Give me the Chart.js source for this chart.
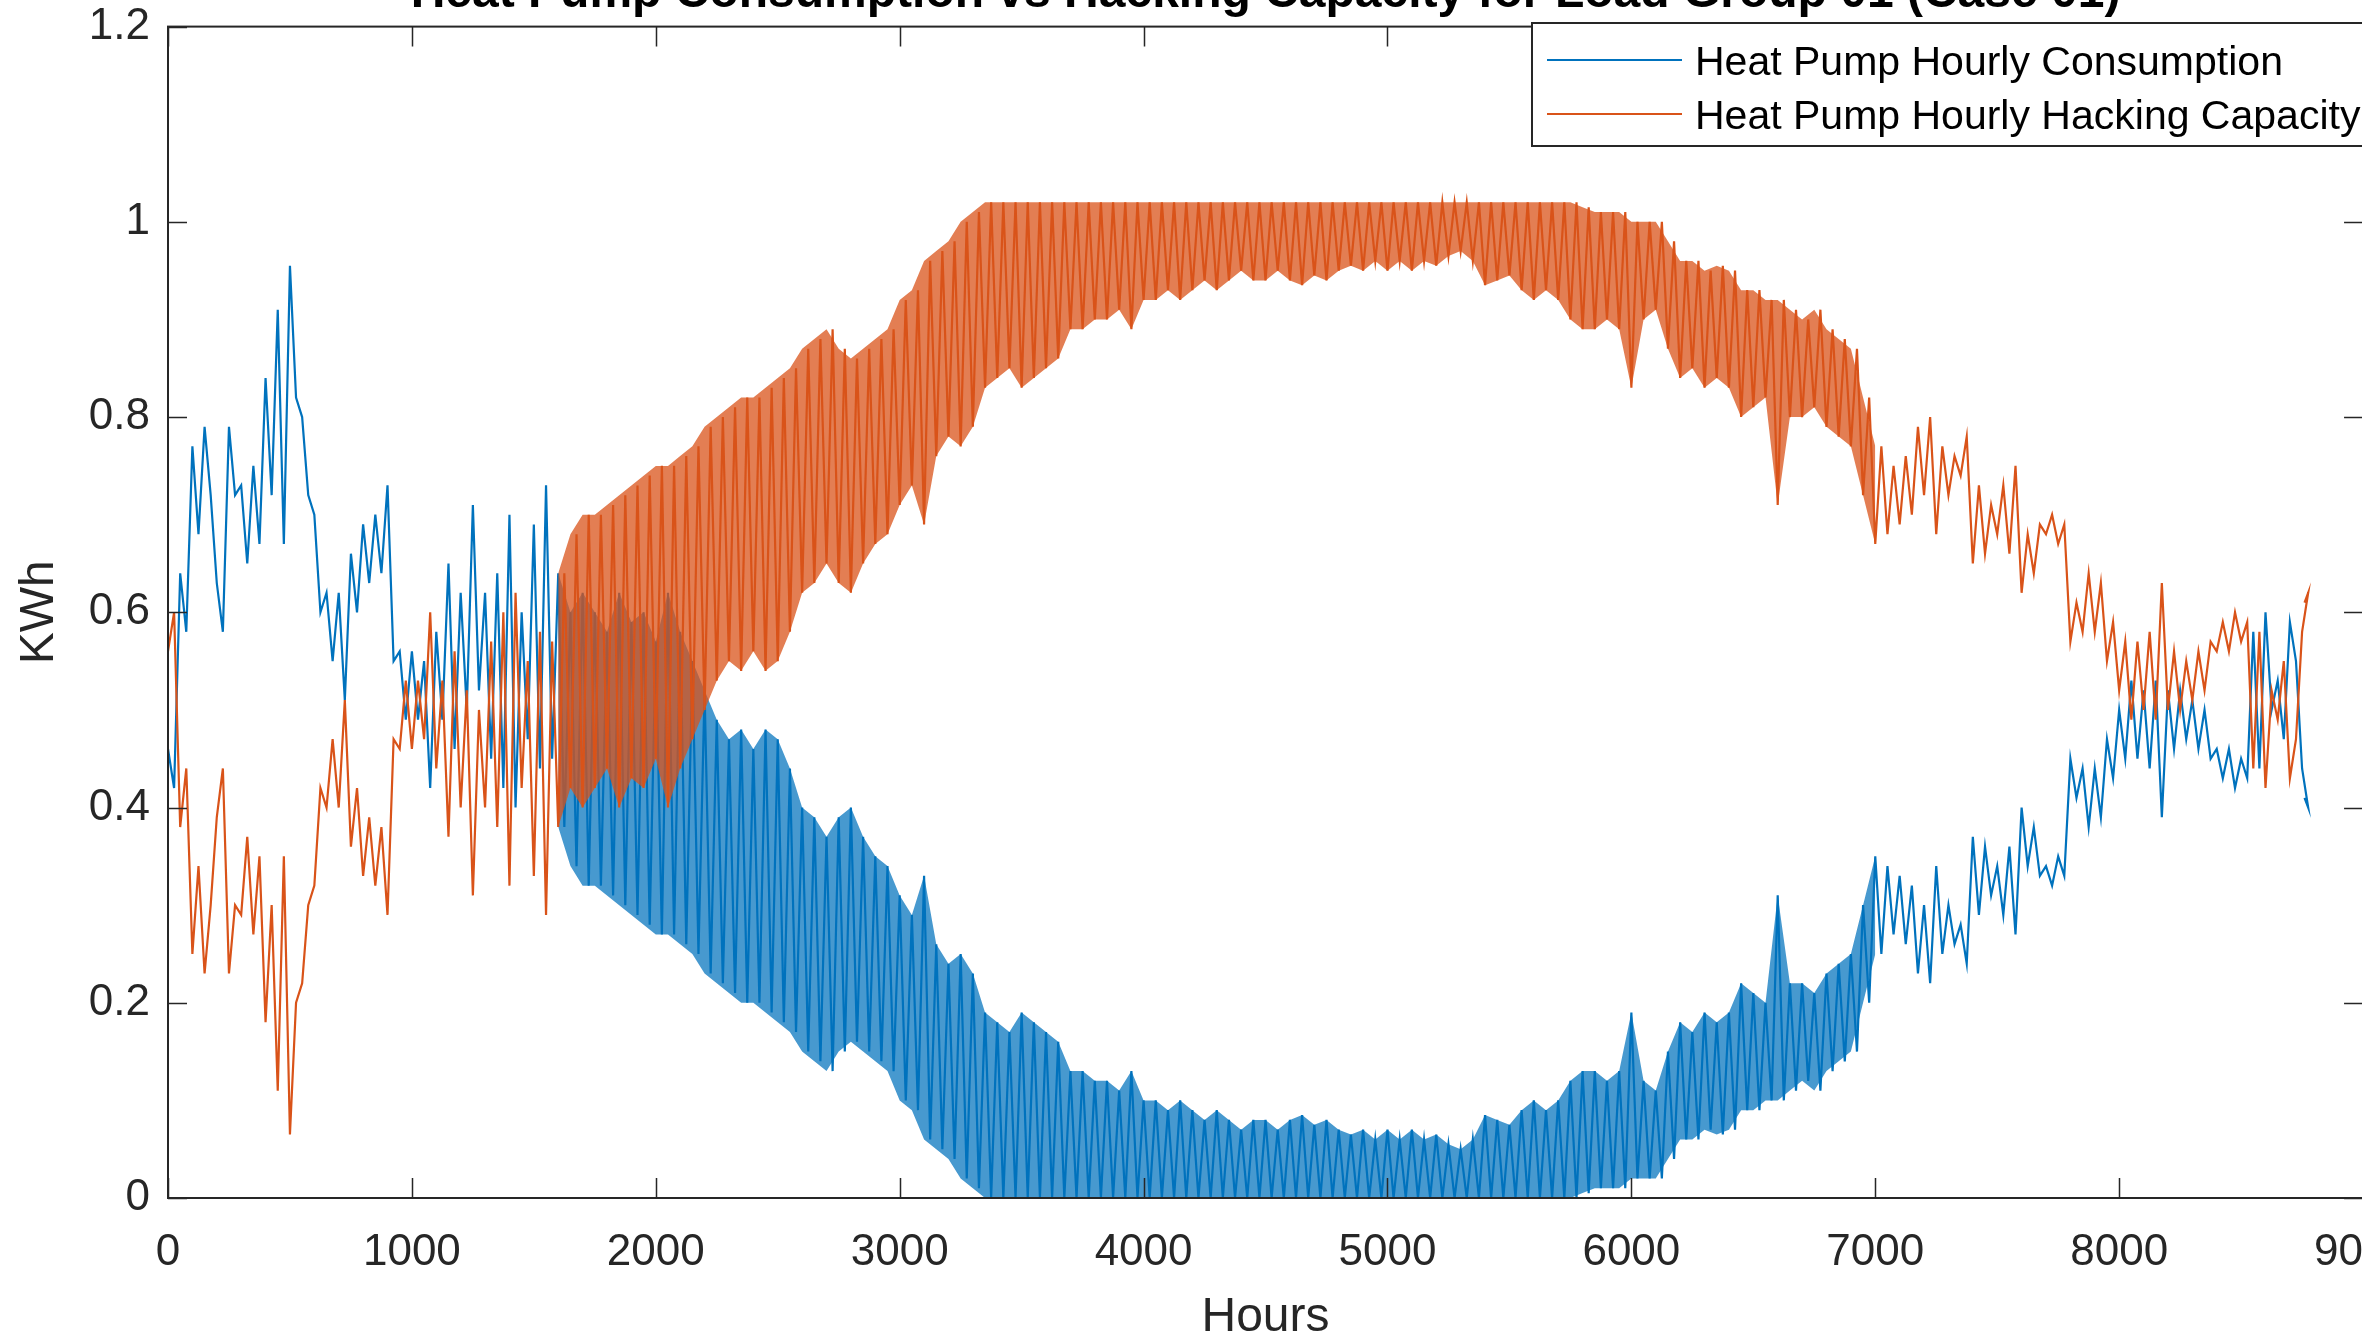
<!DOCTYPE html>
<html><head><meta charset="utf-8">
<script src="https://cdn.jsdelivr.net/npm/chart.js@4.4.1/dist/chart.umd.min.js"></script>
<style>
html,body{margin:0;padding:0;background:#fff;overflow:hidden;width:2362px;height:1338px;}
#wrap{position:absolute;left:0;top:-40px;width:2440px;height:1400px;}
canvas{display:block;}
</style></head><body>
<div id="wrap"><canvas id="c" width="2440" height="1400"></canvas></div>
<script>
const titleText = 'Heat Pump Consumption vs Hacking Capacity for Load Group 01 (Case 01)';
const seriesNames = ['Heat Pump Hourly Consumption', 'Heat Pump Hourly Hacking Capacity'];
const xTicks = [0,1000,2000,3000,4000,5000,6000,7000,8000,9000];
const yTicks = [0,0.2,0.4,0.6,0.8,1,1.2];

// sample hours (every 50 h)
const hours = [
0,50,100,150,200,250,300,350,400,450,
500,550,600,650,700,750,800,850,900,950,
1000,1050,1100,1150,1200,1250,1300,1350,1400,1450,
1500,1550,1600,1650,1700,1750,1800,1850,1900,1950,
2000,2050,2100,2150,2200,2250,2300,2350,2400,2450,
2500,2550,2600,2650,2700,2750,2800,2850,2900,2950,
3000,3050,3100,3150,3200,3250,3300,3350,3400,3450,
3500,3550,3600,3650,3700,3750,3800,3850,3900,3950,
4000,4050,4100,4150,4200,4250,4300,4350,4400,4450,
4500,4550,4600,4650,4700,4750,4800,4850,4900,4950,
5000,5050,5100,5150,5200,5250,5300,5350,5400,5450,
5500,5550,5600,5650,5700,5750,5800,5850,5900,5950,
6000,6050,6100,6150,6200,6250,6300,6350,6400,6450,
6500,6550,6600,6650,6700,6750,6800,6850,6900,6950,
7000,7050,7100,7150,7200,7250,7300,7350,7400,7450,
7500,7550,7600,7650,7700,7750,7800,7850,7900,7950,
8000,8050,8100,8150,8200,8250,8300,8350,8400,8450,
8500,8550,8600,8650,8700,8750,8760];

// consumption: daily highs and lows
const consHi = [
0.46,0.64,0.77,0.79,0.63,0.79,0.73,0.75,0.84,0.91,
0.955,0.80,0.70,0.62,0.62,0.66,0.69,0.70,0.73,0.56,
0.56,0.55,0.58,0.65,0.62,0.71,0.62,0.64,0.70,0.60,
0.69,0.73,0.64,0.60,0.62,0.60,0.58,0.62,0.59,0.60,
0.57,0.62,0.58,0.55,0.52,0.49,0.47,0.48,0.46,0.48,
0.47,0.44,0.40,0.39,0.37,0.39,0.40,0.37,0.35,0.34,
0.31,0.29,0.33,0.26,0.24,0.25,0.23,0.19,0.18,0.17,
0.19,0.18,0.17,0.16,0.13,0.13,0.12,0.12,0.11,0.13,
0.10,0.10,0.09,0.10,0.09,0.08,0.09,0.08,0.07,0.08,
0.08,0.07,0.08,0.085,0.075,0.08,0.07,0.065,0.07,0.06,
0.07,0.06,0.07,0.06,0.065,0.055,0.05,0.06,0.085,0.08,
0.075,0.09,0.10,0.09,0.10,0.12,0.13,0.13,0.12,0.13,
0.19,0.12,0.11,0.15,0.18,0.17,0.19,0.18,0.19,0.22,
0.21,0.20,0.31,0.22,0.22,0.21,0.23,0.24,0.25,0.30,
0.35,0.34,0.33,0.32,0.30,0.34,0.30,0.28,0.37,0.36,
0.34,0.36,0.40,0.38,0.34,0.35,0.45,0.44,0.44,0.47,
0.50,0.53,0.52,0.53,0.52,0.52,0.51,0.50,0.46,0.46,
0.45,0.58,0.60,0.53,0.59,0.44,0.41];
const consLo = [
0.42,0.58,0.68,0.72,0.58,0.72,0.65,0.67,0.72,0.67,
0.82,0.72,0.60,0.55,0.51,0.60,0.63,0.64,0.55,0.49,
0.49,0.42,0.49,0.46,0.50,0.52,0.45,0.42,0.40,0.47,
0.44,0.45,0.38,0.34,0.32,0.32,0.31,0.30,0.29,0.28,
0.27,0.27,0.26,0.25,0.23,0.22,0.21,0.20,0.20,0.19,
0.18,0.17,0.15,0.14,0.13,0.15,0.16,0.15,0.14,0.13,
0.10,0.09,0.06,0.05,0.04,0.02,0.01,0,0,0,
0,0,0,0,0,0,0,0,0,0,
0,0,0,0,0,0,0,0,0,0,
0,0,0,0,0,0,0,0,0,0,
0,0,0,0,0,0,0,0,0,0,
0,0,0,0,0,0,0.005,0.01,0.01,0.01,
0.02,0.02,0.02,0.04,0.06,0.06,0.07,0.065,0.07,0.09,
0.09,0.10,0.10,0.11,0.12,0.11,0.13,0.14,0.15,0.20,
0.25,0.27,0.26,0.23,0.22,0.25,0.26,0.24,0.29,0.31,
0.29,0.27,0.34,0.33,0.32,0.33,0.41,0.38,0.39,0.43,
0.45,0.45,0.44,0.39,0.46,0.47,0.46,0.45,0.43,0.42,
0.43,0.44,0.50,0.47,0.55,0.40,0.39];

// hacking capacity: daily highs and lows
const hackHi = [
0.60,0.44,0.34,0.30,0.44,0.30,0.37,0.35,0.30,0.35,
0.20,0.30,0.42,0.47,0.51,0.42,0.39,0.38,0.47,0.53,
0.53,0.60,0.53,0.56,0.52,0.50,0.57,0.60,0.62,0.55,
0.58,0.57,0.64,0.68,0.70,0.70,0.71,0.72,0.73,0.74,
0.75,0.75,0.76,0.77,0.79,0.80,0.81,0.82,0.82,0.83,
0.84,0.85,0.87,0.88,0.89,0.87,0.86,0.87,0.88,0.89,
0.92,0.93,0.96,0.97,0.98,1.00,1.01,1.02,1.02,1.02,
1.02,1.02,1.02,1.02,1.02,1.02,1.02,1.02,1.02,1.02,
1.02,1.02,1.02,1.02,1.02,1.02,1.02,1.02,1.02,1.02,
1.02,1.02,1.02,1.02,1.02,1.02,1.02,1.02,1.02,1.02,
1.02,1.02,1.02,1.02,1.02,1.02,1.02,1.02,1.02,1.02,
1.02,1.02,1.02,1.02,1.02,1.02,1.015,1.01,1.01,1.01,
1.00,1.00,1.00,0.98,0.96,0.96,0.95,0.955,0.95,0.93,
0.93,0.92,0.92,0.91,0.90,0.91,0.89,0.88,0.87,0.82,
0.77,0.75,0.76,0.79,0.80,0.77,0.76,0.78,0.73,0.71,
0.73,0.75,0.68,0.69,0.70,0.69,0.61,0.64,0.63,0.59,
0.57,0.57,0.58,0.63,0.56,0.55,0.56,0.57,0.59,0.60,
0.59,0.58,0.52,0.55,0.47,0.62,0.63];
const hackLo = [
0.56,0.38,0.25,0.23,0.39,0.23,0.29,0.27,0.18,0.11,
0.065,0.22,0.32,0.40,0.40,0.36,0.33,0.32,0.29,0.46,
0.46,0.47,0.44,0.37,0.40,0.31,0.40,0.38,0.32,0.42,
0.33,0.29,0.38,0.42,0.40,0.42,0.44,0.40,0.43,0.42,
0.45,0.40,0.44,0.47,0.50,0.53,0.55,0.54,0.56,0.54,
0.55,0.58,0.62,0.63,0.65,0.63,0.62,0.65,0.67,0.68,
0.71,0.73,0.69,0.76,0.78,0.77,0.79,0.83,0.84,0.85,
0.83,0.84,0.85,0.86,0.89,0.89,0.90,0.90,0.91,0.89,
0.92,0.92,0.93,0.92,0.93,0.94,0.93,0.94,0.95,0.94,
0.94,0.95,0.94,0.935,0.945,0.94,0.95,0.955,0.95,0.96,
0.95,0.96,0.95,0.96,0.955,0.965,0.97,0.96,0.935,0.94,
0.945,0.93,0.92,0.93,0.92,0.90,0.89,0.89,0.90,0.89,
0.83,0.90,0.91,0.87,0.84,0.85,0.83,0.84,0.83,0.80,
0.81,0.82,0.71,0.80,0.80,0.81,0.79,0.78,0.77,0.72,
0.67,0.68,0.69,0.70,0.72,0.68,0.72,0.74,0.65,0.66,
0.68,0.66,0.62,0.64,0.68,0.67,0.57,0.58,0.58,0.55,
0.52,0.49,0.50,0.49,0.50,0.50,0.51,0.52,0.56,0.56,
0.57,0.44,0.42,0.49,0.43,0.58,0.61];

// hour span where the daily swing forms a dense band
const denseStart = 1600, denseEnd = 7000;

const halfStep = 25; // second value of each pair sits half a sample step later
function trace(first, second) {
  const pts = [];
  for (let i = 0; i < hours.length; i++) {
    pts.push({x: hours[i], y: first[i]});
    if (i < hours.length - 1) pts.push({x: hours[i] + halfStep, y: second[i]});
  }
  return pts;
}
function envelope(vals) {
  const pts = [];
  for (let i = 0; i < hours.length; i++) {
    if (hours[i] >= denseStart && hours[i] <= denseEnd) pts.push({x: hours[i], y: vals[i]});
  }
  return pts;
}

const BLUE = '#0072BD', ORANGE = '#D95319', AX = '#262626';
const BLUE_FILL = 'rgba(0,114,189,0.72)', ORANGE_FILL = 'rgba(217,83,25,0.75)';
const FONT = "'Liberation Sans', Arial, Helvetica, sans-serif";

const matlabAxes = {
  id: 'matlabAxes',
  afterDatasetsDraw(chart) {
    const {ctx, chartArea: {left, right, top, bottom}, scales: {x, y}} = chart;
    ctx.save();
    ctx.strokeStyle = AX;
    ctx.lineWidth = 1.5;
    ctx.beginPath();
    x.ticks.forEach(t => {
      const px = Math.round(x.getPixelForValue(t.value)) + 0.5;
      ctx.moveTo(px, bottom); ctx.lineTo(px, bottom - 20);
      ctx.moveTo(px, top); ctx.lineTo(px, top + 20);
    });
    y.ticks.forEach(t => {
      const py = Math.round(y.getPixelForValue(t.value)) + 0.5;
      ctx.moveTo(left, py); ctx.lineTo(left + 19, py);
      ctx.moveTo(right, py); ctx.lineTo(right - 19, py);
    });
    ctx.stroke();
    ctx.lineWidth = 2;
    ctx.strokeRect(left, top, right - left, bottom - top);
    ctx.restore();
  }
};

const matlabLegend = {
  id: 'matlabLegend',
  afterDraw(chart) {
    const ctx = chart.ctx;
    const entries = chart.data.datasets.filter(d => d.showInLegend);
    ctx.save();
    ctx.fillStyle = '#fff';
    ctx.strokeStyle = AX;
    ctx.lineWidth = 2;
    ctx.fillRect(1532, 63, 900, 123);
    ctx.strokeRect(1532, 63, 900, 123);
    ctx.font = '41px ' + FONT;
    ctx.textBaseline = 'middle';
    ctx.textAlign = 'left';
    entries.forEach((d, i) => {
      const yy = 104 + i * 54;
      ctx.strokeStyle = d.borderColor;
      ctx.lineWidth = 2;
      ctx.beginPath(); ctx.moveTo(1547, yy - 4); ctx.lineTo(1682, yy - 4); ctx.stroke();
      ctx.fillStyle = '#000';
      ctx.fillText(d.label, 1695, yy);
    });
    ctx.restore();
  }
};

new Chart(document.getElementById('c'), {
  type: 'line',
  data: {
    datasets: [
      {label: seriesNames[0], data: trace(consHi, consLo), borderColor: BLUE, borderWidth: 2.2, pointRadius: 0, fill: false, tension: 0, order: 2, showInLegend: true},
      {label: seriesNames[1], data: trace(hackLo, hackHi), borderColor: ORANGE, borderWidth: 2.2, pointRadius: 0, fill: false, tension: 0, order: 0, showInLegend: true},
      {label: 'consHiBand', data: envelope(consHi), borderColor: 'rgba(0,0,0,0)', borderWidth: 0, pointRadius: 0, fill: false, tension: 0, order: 3},
      {label: 'consLoBand', data: envelope(consLo), borderColor: 'rgba(0,0,0,0)', borderWidth: 0, pointRadius: 0, fill: '-1', backgroundColor: BLUE_FILL, tension: 0, order: 3},
      {label: 'hackHiBand', data: envelope(hackHi), borderColor: 'rgba(0,0,0,0)', borderWidth: 0, pointRadius: 0, fill: false, tension: 0, order: 1},
      {label: 'hackLoBand', data: envelope(hackLo), borderColor: 'rgba(0,0,0,0)', borderWidth: 0, pointRadius: 0, fill: '-1', backgroundColor: ORANGE_FILL, tension: 0, order: 1}
    ]
  },
  options: {
    responsive: false,
    animation: false,
    devicePixelRatio: 1,
    layout: {padding: {left: 0, right: 62, top: 0, bottom: 0}},
    plugins: {
      legend: {display: false},
      tooltip: {enabled: false},
      title: {
        display: true, text: titleText, color: '#000', fullSize: false,
        font: {family: FONT, size: 48, weight: 'bold'},
        padding: {top: 5, bottom: 4}
      }
    },
    scales: {
      x: {
        type: 'linear', min: 0, max: 9000,
        afterBuildTicks: s => { s.ticks = xTicks.map(v => ({value: v})); },
        afterFit: s => { s.height = 162; },
        grid: {display: false, drawTicks: false},
        border: {display: false},
        ticks: {color: AX, font: {family: FONT, size: 44}, padding: 28, maxRotation: 0, callback: v => String(v)},
        title: {display: true, text: 'Hours', color: AX, font: {family: FONT, size: 48}, padding: {top: 0, bottom: 13}}
      },
      y: {
        min: 0, max: 1.2,
        afterBuildTicks: s => { s.ticks = yTicks.map(v => ({value: v})); },
        afterFit: s => { s.width = 168; },
        grid: {display: false, drawTicks: false},
        border: {display: false},
        ticks: {color: AX, font: {family: FONT, size: 44}, padding: 18, callback: v => String(Math.round(v * 10) / 10)},
        title: {display: true, text: 'KWh', color: AX, font: {family: FONT, size: 48}, padding: {top: 11, bottom: 0}}
      }
    }
  },
  plugins: [matlabAxes, matlabLegend]
});
</script>
</body></html>
